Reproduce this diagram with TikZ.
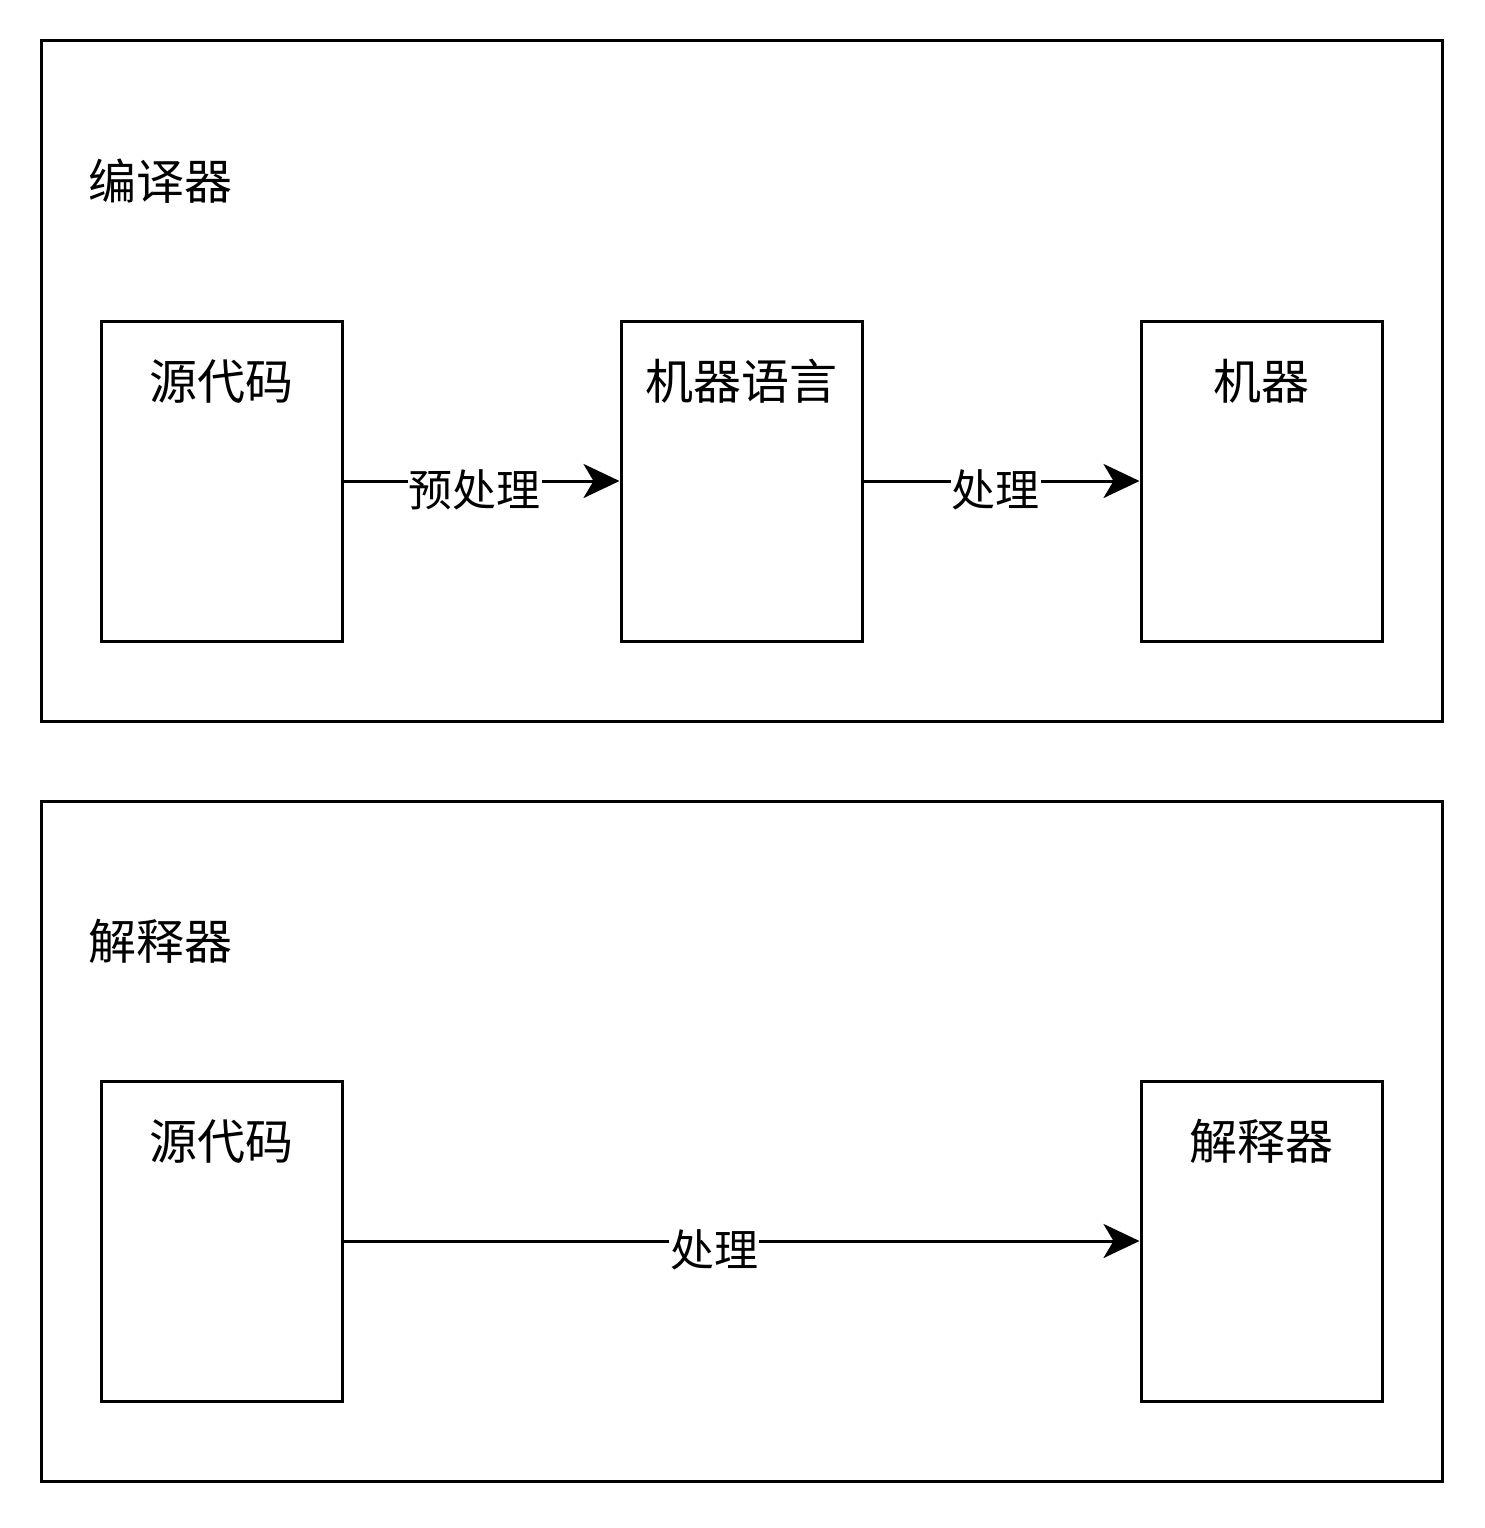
\documentclass[tikz,border=0pt]{standalone}
\usepackage{fontspec}
\setmainfont{Noto Sans CJK SC}
\usepackage{tikz}
\usetikzlibrary{arrows.meta,positioning}

\tikzset{
  frame/.style={draw, line width=3pt},
  box/.style={draw, line width=3pt, minimum width=241pt, minimum height=320pt, inner sep=0pt},
  boxtext/.style={anchor=base, inner sep=0pt, font=\fontsize{48}{56}\selectfont},
  title/.style={anchor=base west, inner sep=0pt, font=\fontsize{48}{56}\selectfont},
  arr/.style={line width=3pt, -{Stealth[length=36pt,width=34pt,inset=10pt]}},
  lbl/.style={fill=white, anchor=base, yshift=-25pt, inner xsep=1pt, inner ysep=2pt,
    font=\fontsize{44}{52}\selectfont}
}

\begin{document}
\begin{tikzpicture}[x=1pt,y=-1pt]
\useasboundingbox (0,0) rectangle (1484,1528);

% Compiler
\draw[frame] (41,41) rectangle (1442,721);
\node[title] (ctitle) at (88,199) {编译器};

\node[box] (src1) at (221.5,481) {};
\node[box] (lang) at (741.5,481) {};
\node[box] (mach) at (1261.5,481) {};
\node[boxtext] (src1t) at (221.5,399) {源代码};
\node[boxtext] (langt) at (741.5,399) {机器语言};
\node[boxtext] (macht) at (1261.5,399) {机器};

\draw[arr] (src1) -- node[lbl, pos=0.475] (pre) {预处理} (lang);
\draw[arr] (lang) -- node[lbl, pos=0.48] (proc1) {处理} (mach);

% Interpreter
\draw[frame] (41,801) rectangle (1442,1481);
\node[title] (ititle) at (88,959) {解释器};

\node[box] (src2) at (221.5,1241) {};
\node[box] (interp) at (1261.5,1241) {};
\node[boxtext] (src2t) at (221.5,1159) {源代码};
\node[boxtext] (interpt) at (1261.5,1159) {解释器};

\draw[arr] (src2) -- node[lbl, pos=0.466] (proc2) {处理} (interp);

\end{tikzpicture}
\end{document}
